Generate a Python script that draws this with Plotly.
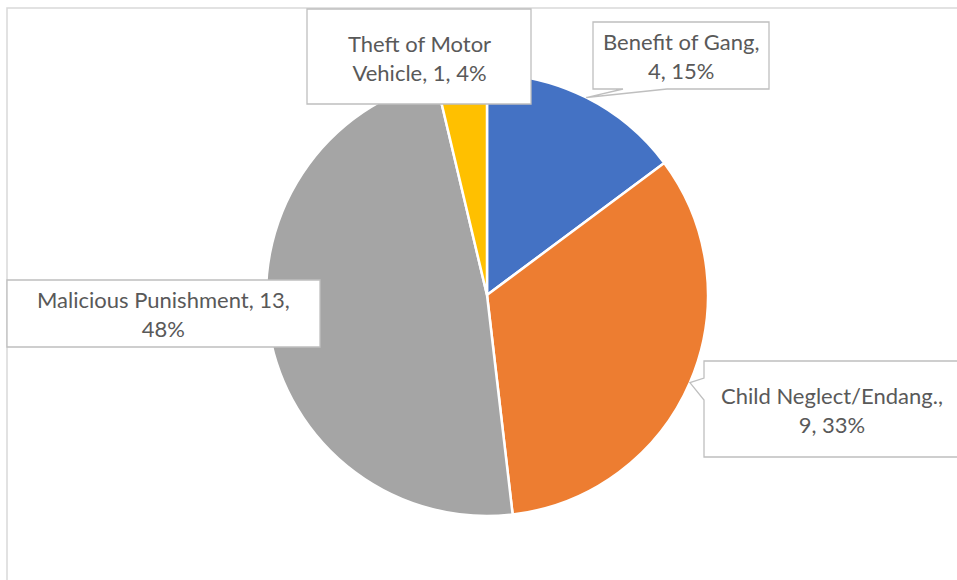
import math
import textwrap
import plotly.graph_objects as go

# Offence categories and counts
categories = ["Benefit of Gang", "Child Neglect/Endang.", "Malicious Punishment", "Theft of Motor Vehicle"]
counts = [4, 9, 13, 1]
colors = ["#4472C4", "#ED7D31", "#A5A5A5", "#FFC000"]

W, H = 957, 580
CX, CY, R = 487, 295, 221  # pie centre and radius in pixels


def px(x):
    return x / W


def py(y):
    return 1 - y / H


total = sum(counts)
pcts = [round(c / total * 100) for c in counts]

fig = go.Figure(go.Pie(
    labels=categories,
    values=counts,
    sort=False,
    direction="clockwise",
    rotation=0,
    marker=dict(colors=colors, line=dict(color="white", width=2.5)),
    textinfo="none",
    hoverinfo="label+value+percent",
    domain=dict(x=[px(CX - R), px(CX + R)], y=[py(CY + R), py(CY - R)]),
    showlegend=False,
))

# Callout boxes: (left, top, right, bottom, wrap width, pointer base)
callouts = {
    "Benefit of Gang": dict(box=(593, 22, 769, 89), wrap=16, base=("bottom", 623, 667)),
    "Child Neglect/Endang.": dict(box=(704, 361, 960, 457), wrap=22, base=("left", 378, 400)),
    "Malicious Punishment": dict(box=(7, 280, 320, 347), wrap=25, base=None),
    "Theft of Motor Vehicle": dict(box=(307, 9, 531, 104), wrap=15, base=None),
}

shapes = [
    # chart area outline
    dict(type="rect", xref="paper", yref="paper", x0=px(7), y0=py(600), x1=px(975), y1=py(8),
         line=dict(color="#D9D9D9", width=1.5), fillcolor="rgba(0,0,0,0)", layer="below"),
]
annotations = []

start = 0.0
for cat, val, pct in zip(categories, counts, pcts):
    span = val / total * 360
    mid = math.radians(start + span / 2)
    start += span
    tip = (CX + R * math.sin(mid), CY - R * math.cos(mid))

    c = callouts[cat]
    l, t, r, b = c["box"]
    pts = [(l, t), (r, t), (r, b)]
    base = c["base"]
    if base and base[0] == "bottom":
        pts += [(base[2], b), tip, (base[1], b)]
    pts += [(l, b)]
    if base and base[0] == "left":
        pts += [(l, base[2]), tip, (l, base[1])]
    path = "M " + " L ".join(f"{px(x):.5f},{py(y):.5f}" for x, y in pts) + " Z"
    shapes.append(dict(type="path", xref="paper", yref="paper", path=path,
                       fillcolor="white", line=dict(color="#BFBFBF", width=1.3), layer="above"))

    label = f"{cat}, {val}, {pct}%"
    text = "<br>".join(textwrap.wrap(label, width=c["wrap"]))
    annotations.append(dict(
        x=px((l + r) / 2), y=py((t + b) / 2 + 1), xref="paper", yref="paper",
        xanchor="center", yanchor="middle", text=text, showarrow=False,
        align="center", font=dict(family="Lato", size=22, color="#595959"),
    ))

fig.update_layout(
    width=W, height=H,
    margin=dict(l=0, r=0, t=0, b=0),
    paper_bgcolor="white", plot_bgcolor="white",
    shapes=shapes, annotations=annotations,
)

fig.write_html("out.html")
